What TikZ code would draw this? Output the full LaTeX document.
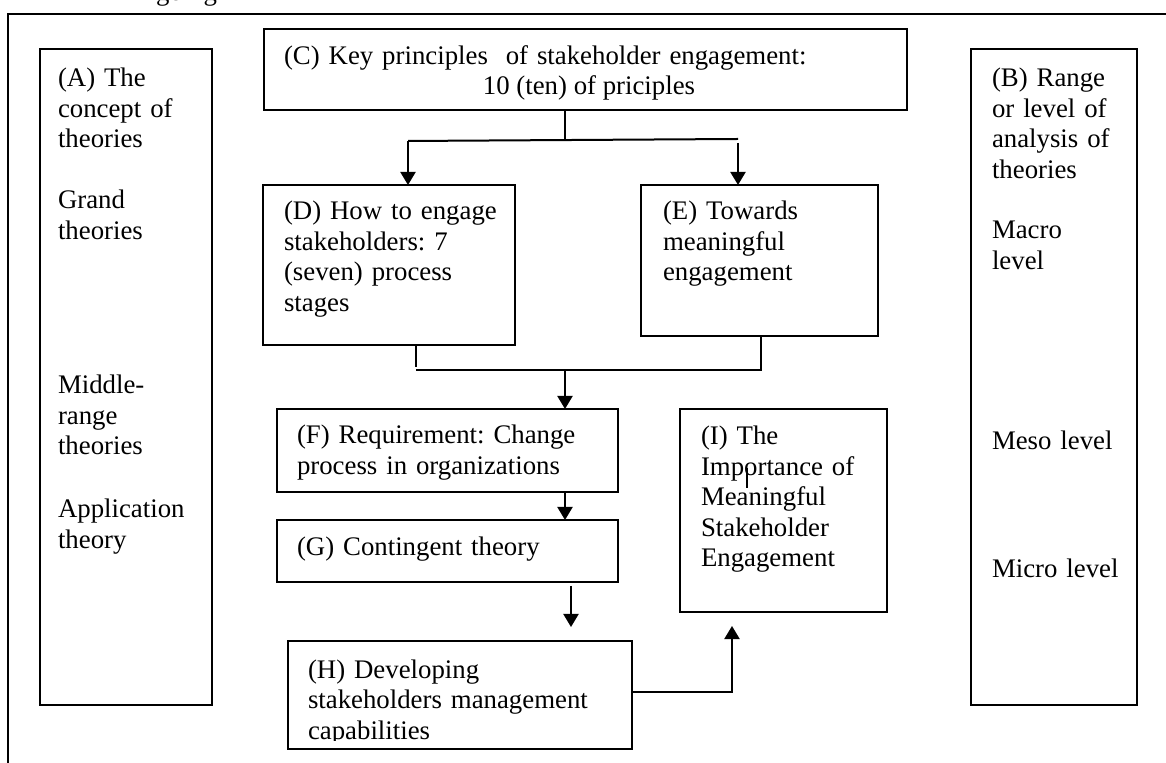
\documentclass[tikz,border=0pt]{standalone}
\usepackage{fontspec}
\setmainfont{Liberation Serif}
\usetikzlibrary{arrows.meta}
\frenchspacing
\begin{document}
\begin{tikzpicture}[x=0.5pt,y=-0.5pt,
  box/.style={draw=black,line width=1pt,inner sep=0pt,outer sep=0pt,anchor=north west},
  txt/.style={inner sep=0pt,outer sep=0pt,anchor=base west,align=left,text width=#1,
    font=\fontsize{13.4pt}{15.25pt}\selectfont},
  txt/.default=90pt,
  conn/.style={draw=black,line width=1pt},
  arr/.style={conn,-{Triangle[length=6.5pt,width=7.5pt]}}]
\useasboundingbox (0,0) rectangle (1166,763);

% cut-off caption fragment and outer frame
\node[txt=40pt] (frag) at (156,1) {going};
\draw[line width=1pt] (1166,14) -- (8,14) -- (8,763);

% boxes
\node[box,minimum width=86pt,minimum height=328pt] (A) at (40,49) {};
\node[box,minimum width=83pt,minimum height=328pt] (B) at (971,49) {};
\node[box,minimum width=321.5pt,minimum height=40.5pt] (C) at (264,29) {};
\node[box,minimum width=126pt,minimum height=80pt] (D) at (263,185) {};
\node[box,minimum width=118.5pt,minimum height=75.5pt] (E) at (641,185) {};
\node[box,minimum width=170.5pt,minimum height=41.5pt] (F) at (277,409) {};
\node[box,minimum width=170.5pt,minimum height=31pt] (G) at (277,520) {};
\node[box,minimum width=172pt,minimum height=54pt] (H) at (288,641) {};
\node[box,minimum width=103.5pt,minimum height=101.5pt] (I) at (680,409) {};

% texts of A
\node[txt=75pt] (A1) at (58,87) {(A) The\\concept of\\theories};
\node[txt=75pt] (A2) at (58,209) {Grand\\theories};
\node[txt=75pt] (A3) at (58,394) {Middle-\\range\\theories};
\node[txt=75pt] (A4) at (58,518) {Application\\theory};
% texts of B
\node[txt=72pt] (B1) at (992,87) {(B) Range\\or level of\\analysis of\\theories};
\node[txt=72pt] (B2) at (992,239) {Macro\\level};
\node[txt=72pt] (B3) at (992,450) {Meso level};
\node[txt=72pt] (B4) at (992,578) {Micro level};
% text of C
\node[txt=300pt] (C1) at (284,65) {(C) Key principles\ \ of stakeholder engagement:};
\node[inner sep=0pt,anchor=base,font=\fontsize{13.4pt}{15.25pt}\selectfont] (C2) at (589,95) {10 (ten) of priciples};
% other texts
\node[txt=115pt] (D1) at (284,220) {(D) How to engage\\stakeholders: 7\\(seven) process\\stages};
\node[txt=105pt] (E1) at (663,220) {(E) Towards\\meaningful\\engagement};
\node[txt=160pt] (F1) at (297,444) {(F) Requirement: Change\\process in organizations};
\node[txt=160pt] (G1) at (297,556) {(G) Contingent theory};
\begin{scope}
\clip (288,641) rectangle (632,740);
\node[txt=160pt] (H1) at (308,678) {(H) Developing\\stakeholders management\\capabilities};
\end{scope}
\node[txt=90pt] (I1) at (701,445) {(I) The\\Importance of\\Meaningful\\Stakeholder\\Engagement};
\draw[line width=0.6pt] (747,468) -- (747,488);

% connectors
\coordinate (j1) at (565,140);
\coordinate (jl) at (408,141);
\coordinate (jr) at (738,139);
\coordinate (jr2) at (738,143);
\draw[conn] (C.south -| j1) -- (j1);
\draw[conn] (jl) -- (jr);
\draw[arr] (jl) -- (jl |- D.north);
\draw[arr] (jr2) -- (jr2 |- E.north);

\coordinate (m1) at (416,370);
\coordinate (m1s) at (416,367);
\coordinate (m2) at (761,370);
\coordinate (m0) at (565,370);
\draw[conn] (D.south -| m1s) -- (m1s);
\draw[conn] (m1) -- (m2) -- (E.south -| m2);
\draw[arr] (m0) -- (m0 |- F.north);

\draw[arr] (F.south -| m0) -- (G.north -| m0);

\coordinate (gh1) at (571,586);
\coordinate (gh2) at (571,627);
\draw[arr] (gh1) -- (gh2);

\coordinate (hi) at (732,692);
\coordinate (hi2) at (732,626);
\draw[arr] (H.east |- hi) -- (hi) -- (hi2);
\end{tikzpicture}
\end{document}
